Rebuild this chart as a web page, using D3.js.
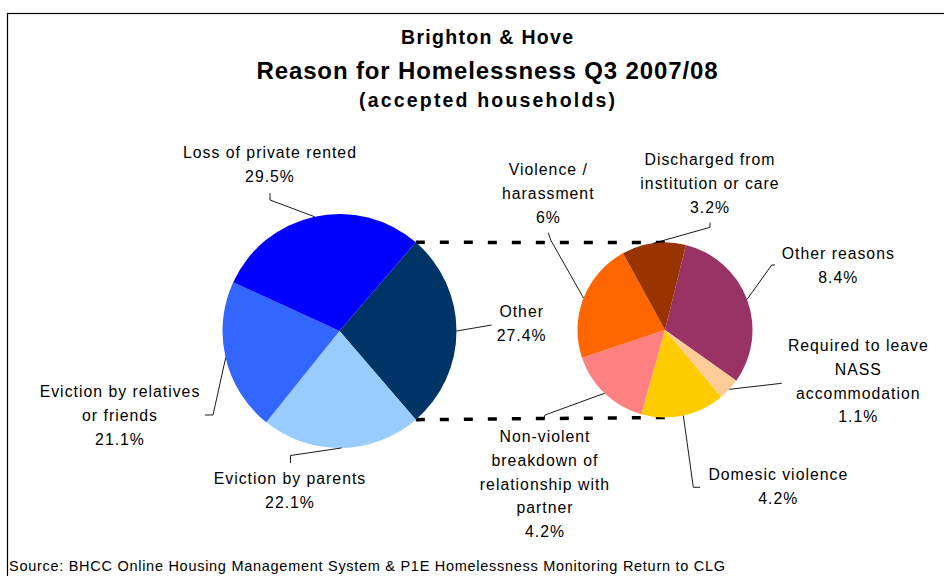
<!DOCTYPE html>
<html><head><meta charset="utf-8">
<script src="https://cdn.jsdelivr.net/npm/d3@7"></script>
<style>
html,body{margin:0;padding:0;background:#fff;}
svg{display:block;font-family:"Liberation Sans",Arial,sans-serif;}
</style></head>
<body>
<svg id="chart" width="944" height="576"></svg>
<script>
// ---- data ----
const titleLines = ["Brighton & Hove", "Reason for Homelessness Q3 2007/08", "(accepted households)"];
const sourceText = "Source: BHCC Online Housing Management System & P1E Homelessness Monitoring Return to CLG";
// main pie, clockwise starting with the split "Other" slice
const mainLabels = ["Other", "Eviction by parents", "Eviction by relatives\nor friends", "Loss of private rented"];
const mainValues = [27.4, 22.1, 21.1, 29.5];
const mainColors = ["#003366", "#99CCFF", "#3366FF", "#0000FF"];
// secondary pie, clockwise
const subLabels = ["Other reasons", "Required to leave\nNASS\naccommodation", "Domesic violence", "Non-violent\nbreakdown of\nrelationship with\npartner", "Violence /\nharassment", "Discharged from\ninstitution or care"];
const subValues = [8.4, 1.1, 4.2, 4.2, 6, 3.2];
const subColors = ["#993366", "#FFCC99", "#FFCC00", "#FF8080", "#FF6600", "#993300"];

// ---- layout ----
const W = 944, H = 576;
const mainC = {x: 339.5, y: 331, r: 117};
const subC = {x: 665, y: 330, r: 87.5};
const subStartDeg = 13.8;
const lineH = 23.9;
const mainLayout = [
  {x: 521.7, y: 317.3, knees: [[491.7, 325]]},
  {x: 290, y: 484, knees: [[290.5, 463], [290.5, 455.5]]},
  {x: 120, y: 396.7, knees: [[205, 415], [213, 415]]},
  {x: 270, y: 158, knees: [[270, 193], [270, 200]]}
];
const subLayout = [
  {x: 838.3, y: 259.3, knees: [[775, 265], [771.7, 265]]},
  {x: 858.3, y: 350.7, knees: [[781.7, 383.3]]},
  {x: 778.3, y: 480, knees: [[700, 487.3], [693.3, 487.3]]},
  {x: 545, y: 441.7, knees: [[543.3, 420], [545, 415]]},
  {x: 548.3, y: 175, knees: [[548.3, 232.7], [550.7, 240]]},
  {x: 710, y: 165, knees: [[710, 222.7], [710, 227.3]]}
];

const svg = d3.select("#chart");
svg.append("rect").attr("width", W).attr("height", H).attr("fill", "#fff");
svg.append("rect").attr("x", 7.5).attr("y", 13.5).attr("width", 960).attr("height", 600)
  .attr("fill", "none").attr("stroke", "#000").attr("stroke-width", 1.2);

// titles
const titleSpecs = [{size: 19.5, y: 44, len: 172}, {size: 24, y: 78.5, len: 461}, {size: 19.5, y: 107, len: 256}];
titleLines.forEach((t, i) => {
  svg.append("text").attr("x", 487).attr("y", titleSpecs[i].y)
    .attr("text-anchor", "middle").attr("font-weight", "bold")
    .attr("font-size", titleSpecs[i].size)
    .attr("textLength", titleSpecs[i].len).attr("lengthAdjust", "spacing")
    .attr("fill", "#000").text(t);
});

const deg = Math.PI / 180;
const mainTotal = d3.sum(mainValues);
const otherSpan = mainValues[0] / mainTotal * 2 * Math.PI;
const mainPie = d3.pie().sort(null).startAngle(Math.PI / 2 - otherSpan / 2).endAngle(Math.PI / 2 - otherSpan / 2 + 2 * Math.PI);
const subPie = d3.pie().sort(null).startAngle(subStartDeg * deg).endAngle(subStartDeg * deg + 2 * Math.PI);
const mainArcs = mainPie(mainValues);
const subArcs = subPie(subValues);

const edge = (c, a) => [c.x + c.r * Math.sin(a), c.y - c.r * Math.cos(a)];

const oa = mainArcs[0];
const conn = [[edge(mainC, oa.startAngle), [subC.x, subC.y - subC.r]], [edge(mainC, oa.endAngle), [subC.x, subC.y + subC.r]]];
svg.selectAll("line.conn").data(conn).enter().append("line").attr("class", "conn")
  .attr("x1", d => d[0][0]).attr("y1", d => d[0][1]).attr("x2", d => d[1][0]).attr("y2", d => d[1][1])
  .attr("stroke", "#000").attr("stroke-width", 3.5).attr("stroke-dasharray", "9,15");

function drawPie(arcs, c, colors) {
  const arc = d3.arc().innerRadius(0).outerRadius(c.r);
  svg.append("g").attr("transform", `translate(${c.x},${c.y})`)
    .selectAll("path").data(arcs).enter().append("path")
    .attr("d", arc).attr("fill", (d, i) => colors[i]).attr("stroke", "none");
}
drawPie(mainArcs, mainC, mainColors);
drawPie(subArcs, subC, subColors);

function drawLabels(arcs, c, labels, values, layout) {
  arcs.forEach((a, i) => {
    const L = layout[i];
    const mid = (a.startAngle + a.endAngle) / 2;
    const pts = L.knees.concat([edge(c, mid)]);
    svg.append("path").attr("d", d3.line()(pts)).attr("fill", "none")
      .attr("stroke", "#000").attr("stroke-width", 0.9);
    const lines = labels[i].split("\n").concat([values[i] + "%"]);
    const t = svg.append("text").attr("text-anchor", "middle").attr("font-size", 15.8)
      .attr("letter-spacing", 1.0).attr("fill", "#000");
    lines.forEach((s, j) => {
      t.append("tspan").attr("x", L.x).attr("y", L.y + j * lineH).text(s);
    });
  });
}
drawLabels(mainArcs, mainC, mainLabels, mainValues, mainLayout);
drawLabels(subArcs, subC, subLabels, subValues, subLayout);

svg.append("text").attr("x", 9).attr("y", 571).attr("font-size", 14.5)
  .attr("textLength", 716).attr("lengthAdjust", "spacing").attr("fill", "#000").text(sourceText);
</script>
</body></html>
